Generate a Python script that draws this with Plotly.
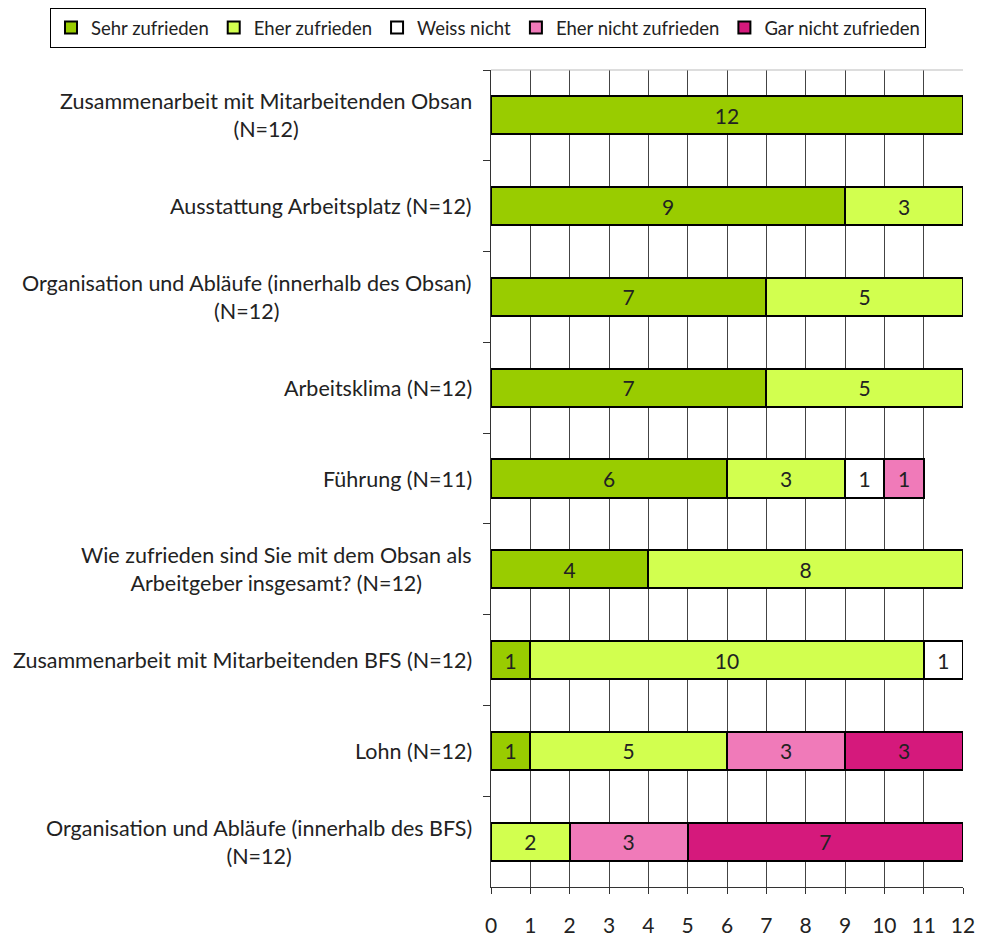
import plotly.graph_objects as go

categories = [
    "Zusammenarbeit mit Mitarbeitenden Obsan<br>(N=12)",
    "Ausstattung Arbeitsplatz (N=12)",
    "Organisation und Abläufe (innerhalb des Obsan)<br>(N=12)",
    "Arbeitsklima (N=12)",
    "Führung (N=11)",
    "Wie zufrieden sind Sie mit dem Obsan als<br>Arbeitgeber insgesamt? (N=12)",
    "Zusammenarbeit mit Mitarbeitenden BFS (N=12)",
    "Lohn (N=12)",
    "Organisation und Abläufe (innerhalb des BFS)<br>(N=12)",
]
series_names = ["Sehr zufrieden", "Eher zufrieden", "Weiss nicht",
                "Eher nicht zufrieden", "Gar nicht zufrieden"]
sehr_zufrieden = [12, 9, 7, 7, 6, 4, 1, 1, 0]
eher_zufrieden = [0, 3, 5, 5, 3, 8, 10, 5, 2]
weiss_nicht = [0, 0, 0, 0, 1, 0, 1, 0, 0]
eher_nicht_zufrieden = [0, 0, 0, 0, 1, 0, 0, 3, 3]
gar_nicht_zufrieden = [0, 0, 0, 0, 0, 0, 0, 3, 7]
x_ticks = list(range(0, 13))

colors = ["#99CC00", "#D2FF4F", "#FFFFFF", "#F07AB9", "#D5197C"]
series = [sehr_zufrieden, eher_zufrieden, weiss_nicht,
          eher_nicht_zufrieden, gar_nicht_zufrieden]

FONT = "Lato"
FS = 21.5
W, H = 976, 929
L, R, T, B = 483, 21, 62, 50
fig = go.Figure()
for name, vals, col in zip(series_names, series, colors):
    v = [x if x else None for x in vals]
    fig.add_trace(go.Bar(
        y=categories, x=v, name=name, orientation="h",
        marker=dict(color=col, line=dict(color="#000000", width=2)),
        text=[str(x) if x else "" for x in vals],
        textposition="inside", insidetextanchor="middle",
        textangle=0, constraintext="none",
        textfont=dict(family=FONT, size=21, color="#222222"),
        hoverinfo="x+name",
    ))

for c in categories:
    fig.add_annotation(
        x=0, xref="paper", y=c, yref="y", text=c, showarrow=False,
        xanchor="right", align="center", xshift=-17,
        font=dict(family=FONT, size=FS, color="#222222"),
    )

fig.add_shape(type="line", xref="paper", yref="paper", x0=0, x1=1, y0=1, y1=1,
              line=dict(color="#BBBBBB", width=1))

pw = W - L - R
ph = H - T - B
fig.update_layout(
    barmode="stack",
    bargap=0.58,
    width=W, height=H,
    margin=dict(l=L, r=R, t=T, b=B, autoexpand=False),
    paper_bgcolor="white", plot_bgcolor="white",
    font=dict(family=FONT, size=FS, color="#222222"),
    legend=dict(
        orientation="h",
        x=(42 - L) / pw, xanchor="left", y=(ph + T) / ph, yanchor="top",
        bordercolor="#000000", borderwidth=1,
        font=dict(family=FONT, size=18.5, color="#222222"),
        traceorder="normal", itemwidth=30,
    ),
    xaxis=dict(
        range=[0, 12], tickvals=x_ticks, ticktext=[str(t) for t in x_ticks],
        showgrid=True, gridcolor="#444444", gridwidth=1,
        showline=True, linecolor="#333333", linewidth=1,
        ticks="outside", ticklen=6, tickcolor="#333333",
        ticklabelstandoff=14, zeroline=False,
        tickfont=dict(family=FONT, size=21, color="#222222"),
    ),
    yaxis=dict(
        categoryorder="array", categoryarray=categories, autorange="reversed",
        showticklabels=False, tickson="boundaries",
        ticks="outside", ticklen=7, tickcolor="#333333",
        showline=True, linecolor="#333333", linewidth=1, showgrid=False,
    ),
)

fig.write_html("out.html")
